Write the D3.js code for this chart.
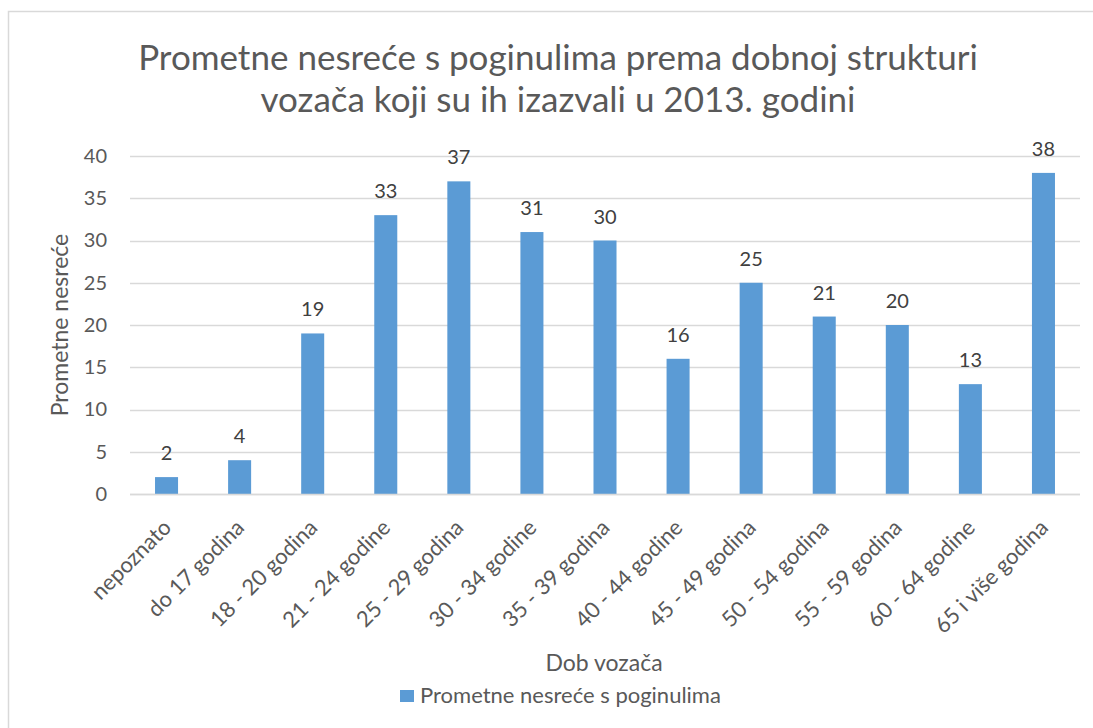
<!DOCTYPE html>
<html>
<head>
<meta charset="utf-8">
<script src="https://cdn.jsdelivr.net/npm/d3@7"></script>
<style>
  body { margin: 0; background: #fff; }
  text { font-family: Lato, "Open Sans", sans-serif; fill: #595959; }
</style>
</head>
<body>
<script>
var categories = ['nepoznato', 'do 17 godina', '18 - 20 godina', '21 - 24 godine', '25 - 29 godina',
  '30 - 34 godine', '35 - 39 godina', '40 - 44 godine', '45 - 49 godina', '50 - 54 godina',
  '55 - 59 godina', '60 - 64 godine', '65 i više godina']
var values = [2, 4, 19, 33, 37, 31, 30, 16, 25, 21, 20, 13, 38]
var y_ticks = [0, 5, 10, 15, 20, 25, 30, 35, 40]
var title_lines = ['Prometne nesreće s poginulima prema dobnoj strukturi', 'vozača koji su ih izazvali u 2013. godini']
var series_name = 'Prometne nesreće s poginulima'

var BAR_BLUE = '#5b9bd5'
var GRID_GREY = '#d9d9d9'
var FONT = 'Lato, "Open Sans", sans-serif'

var W = 1093, H = 728
var plot_left = 130, plot_right = 1080, plot_top = 156, plot_bottom = 494

var svg = d3.select('body').append('svg')
  .attr('width', W)
  .attr('height', H)

// chart frame (right and bottom edge fall outside the picture)
svg.append('rect')
  .attr('x', 8.5).attr('y', 11.5)
  .attr('width', W).attr('height', H)
  .attr('fill', 'none')
  .attr('stroke', GRID_GREY)
  .attr('stroke-width', 1.5)

svg.selectAll('.title')
  .data(title_lines)
  .enter()
  .append('text')
  .attr('class', 'title')
  .attr('x', 558)
  .attr('y', function(d, i){ return 70 + i * 42 })
  .attr('text-anchor', 'middle')
  .attr('font-size', '35px')
  .text(function(d){ return d })

var x = d3.scaleBand().domain(categories).range([plot_left, plot_right]).paddingInner(0.685).paddingOuter(0.3425)
var y = d3.scaleLinear().domain([0, 40]).range([plot_bottom, plot_top])

// gridlines
svg.selectAll('.grid')
  .data(y_ticks)
  .enter()
  .append('line')
  .attr('x1', plot_left).attr('x2', plot_right)
  .attr('y1', function(d){ return Math.round(y(d)) + 0.5 })
  .attr('y2', function(d){ return Math.round(y(d)) + 0.5 })
  .attr('stroke', GRID_GREY)
  .attr('stroke-width', 1.5)

// y axis labels
var yAxis = d3.axisLeft(y).tickValues(y_ticks).tickSize(0).tickPadding(0)
var yg = svg.append('g').attr('transform', 'translate(107,0)').call(yAxis)
yg.select('.domain').remove()
yg.selectAll('text').attr('font-size', '20px').attr('font-family', FONT).attr('fill', '#595959')

svg.append('text')
  .attr('transform', 'translate(68,' + ((plot_top + plot_bottom) / 2) + ') rotate(-90)')
  .attr('text-anchor', 'middle')
  .attr('font-size', '23px')
  .text('Prometne nesreće')

// bars
svg.selectAll('.bar')
  .data(values)
  .enter()
  .append('rect')
  .attr('x', function(d, i){ return x(categories[i]) })
  .attr('y', function(d){ return y(d) })
  .attr('width', x.bandwidth())
  .attr('height', function(d){ return y(0) - y(d) })
  .attr('fill', BAR_BLUE)

// value labels
svg.selectAll('.val')
  .data(values)
  .enter()
  .append('text')
  .attr('x', function(d, i){ return x(categories[i]) + x.bandwidth() / 2 })
  .attr('y', function(d){ return y(d) - 17 })
  .attr('text-anchor', 'middle')
  .attr('font-size', '20px')
  .style('fill', '#404040')
  .text(function(d){ return d })

// x axis baseline and rotated category labels
svg.append('line')
  .attr('x1', plot_left).attr('x2', plot_right)
  .attr('y1', plot_bottom + 0.5).attr('y2', plot_bottom + 0.5)
  .attr('stroke', GRID_GREY)
  .attr('stroke-width', 1.5)

svg.selectAll('.cat')
  .data(categories)
  .enter()
  .append('text')
  .attr('transform', function(d){
    var cx = x(d) + x.bandwidth() / 2 + 6
    return 'translate(' + cx + ',' + (plot_bottom + 35) + ') rotate(-45)'
  })
  .attr('text-anchor', 'end')
  .attr('font-size', '22px')
  .text(function(d){ return d })

svg.append('text')
  .attr('x', 604).attr('y', 671)
  .attr('text-anchor', 'middle')
  .attr('font-size', '23px')
  .text('Dob vozača')

// legend
svg.append('rect')
  .attr('x', 400).attr('y', 690)
  .attr('width', 14).attr('height', 12)
  .attr('fill', BAR_BLUE)
svg.append('text')
  .attr('x', 420).attr('y', 703)
  .attr('font-size', '22px')
  .text(series_name)
</script>
</body>
</html>
